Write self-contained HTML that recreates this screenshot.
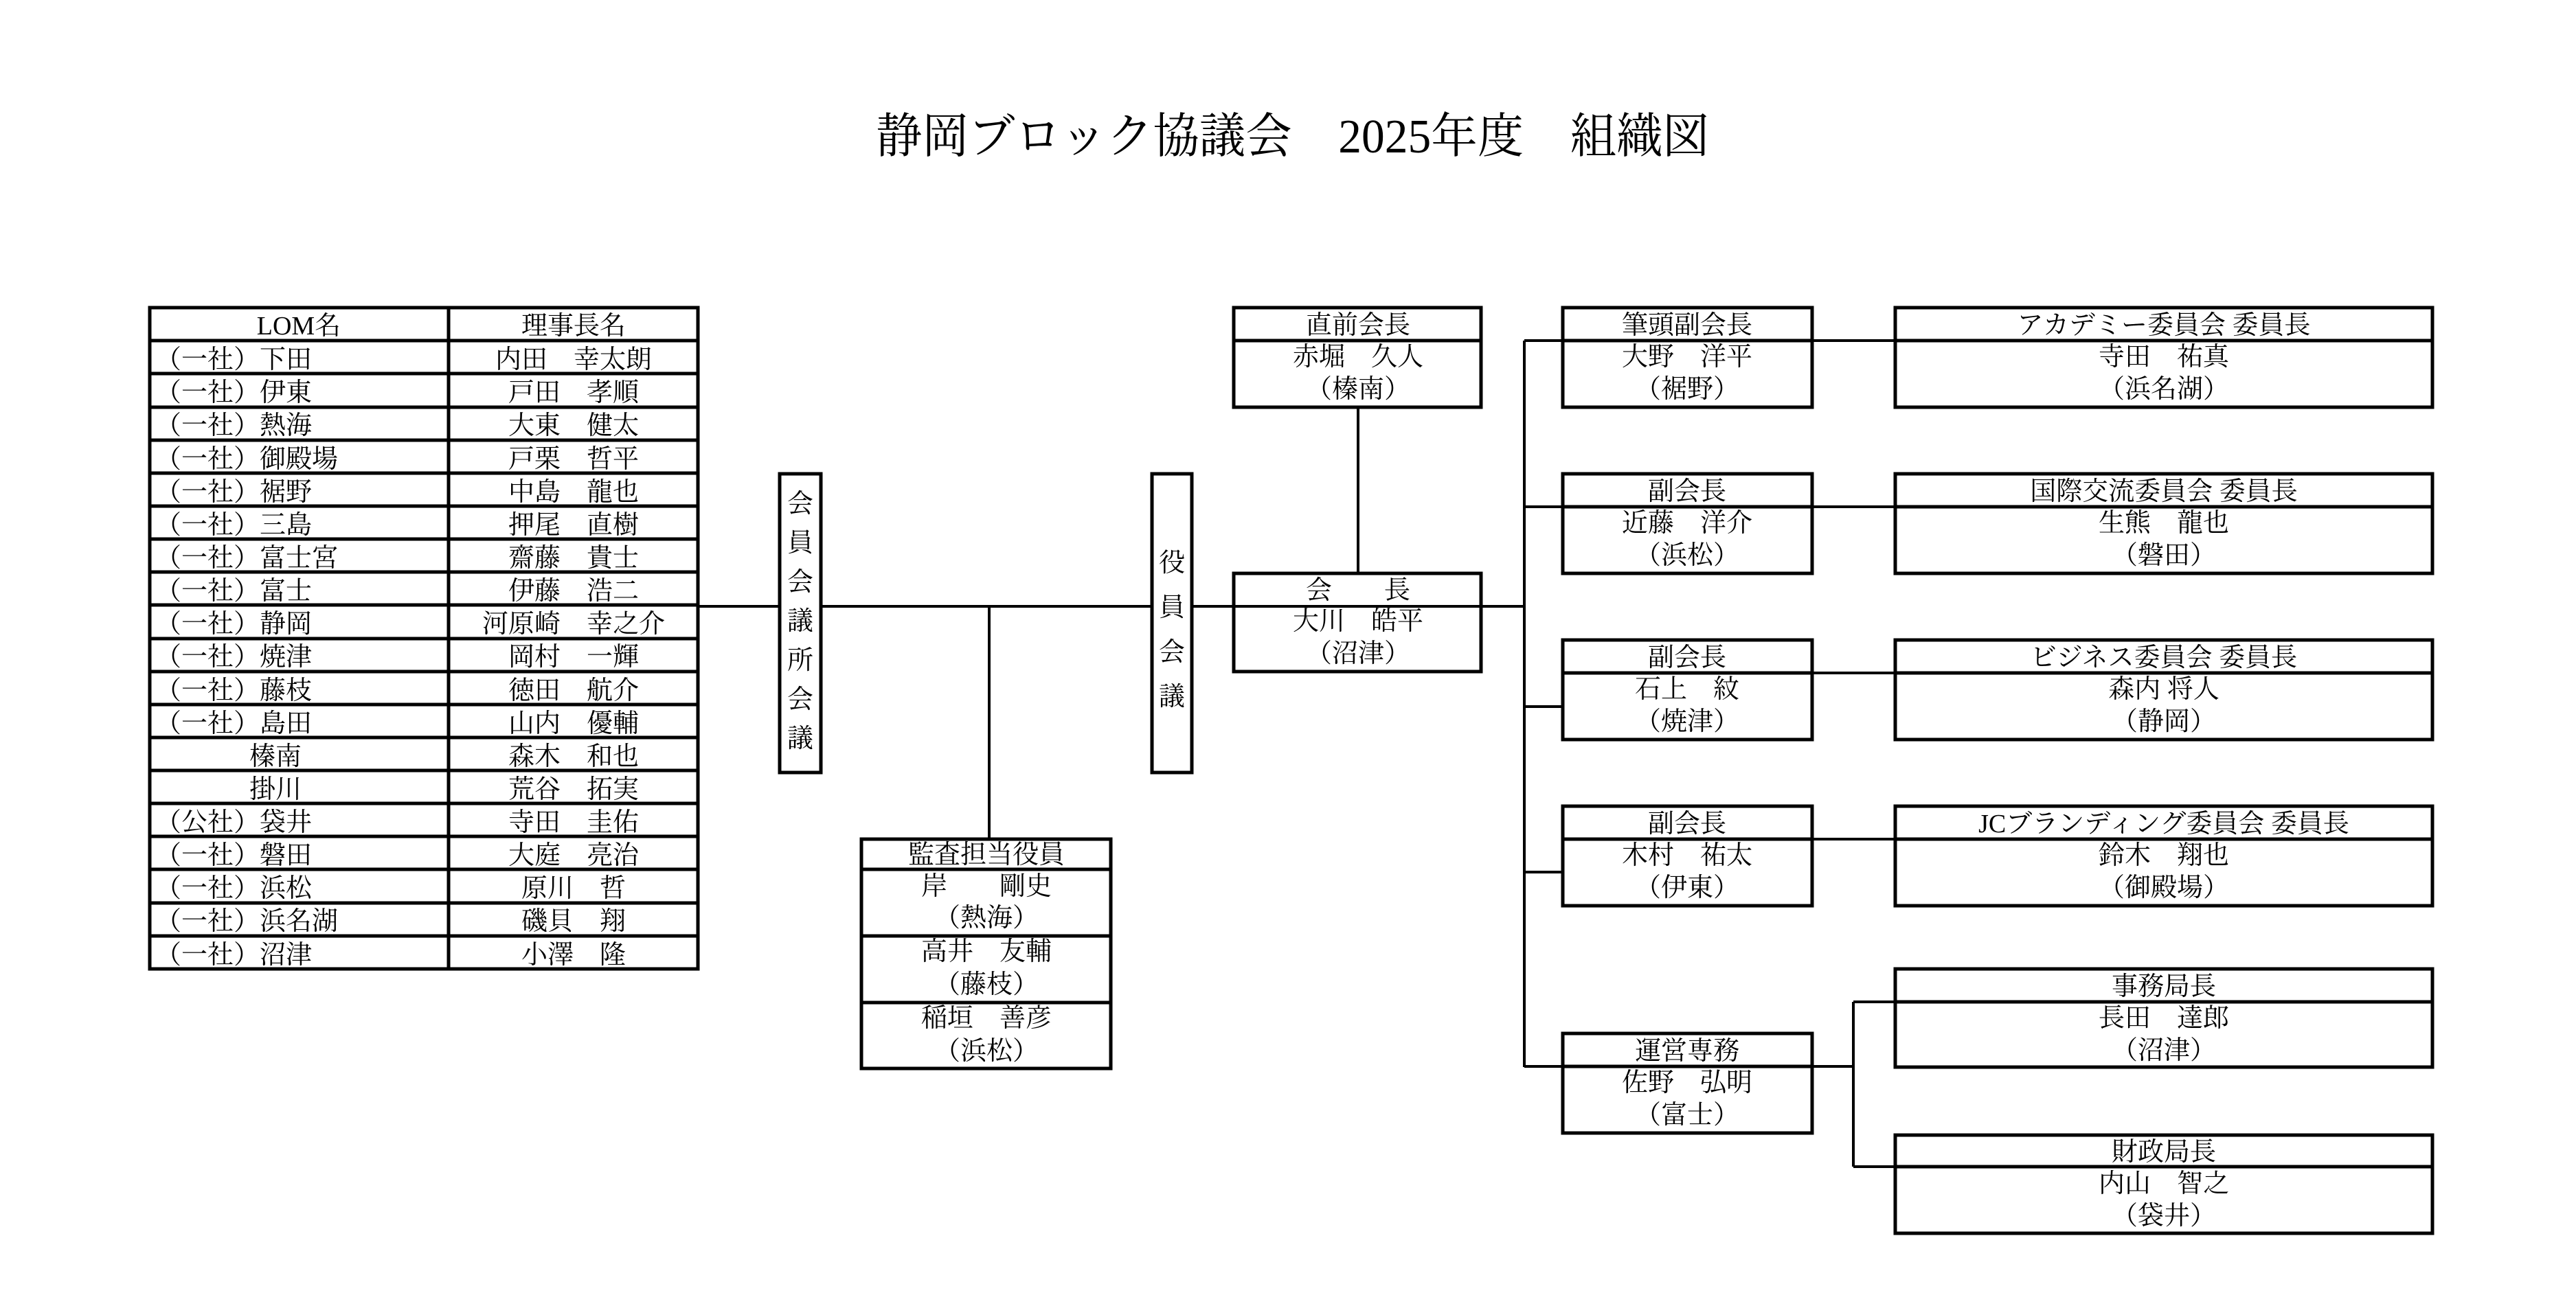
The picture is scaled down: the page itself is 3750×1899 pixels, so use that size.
<!DOCTYPE html>
<html><head><meta charset="utf-8"><style>
html,body{margin:0;padding:0;background:#fff}
svg text{font-family:"Liberation Serif","Noto Serif CJK JP","Noto Serif CJK SC",serif;fill:#000}
</style></head><body>
<svg width="3750" height="1894" viewBox="0 0 3750 1894" xmlns="http://www.w3.org/2000/svg">
<rect width="3750" height="1894" fill="#fff"/>
<text x="1275" y="222" font-size="70" textLength="1213" lengthAdjust="spacingAndGlyphs">静岡ブロック協議会　2025年度　組織図</text>

<g fill="none" stroke="#000" stroke-width="5">
<rect x="218" y="448" width="798" height="963"/>
<line x1="653" y1="448" x2="653" y2="1411"/>
<path d="M218 496H1016M218 544H1016M218 593H1016M218 641H1016M218 689H1016M218 737H1016M218 785H1016M218 833H1016M218 881H1016M218 930H1016M218 978H1016M218 1026H1016M218 1074H1016M218 1122H1016M218 1170H1016M218 1218H1016M218 1266H1016M218 1315H1016M218 1363H1016"/>
<rect x="1135" y="690" width="60" height="435"/>
<rect x="1677" y="690" width="58" height="435"/>
<path d="M1016 883H1135M1195 883H1677M1440 883V1222M1735 883H2219M1977 593V835" stroke-width="4"/>
<path d="M2219 496V1554M2219 496H2759M2219 738H2759M2219 1029H2275M2638 980H2759M2219 1270H2275M2638 1222H2759M2219 1553H2698M2698 1459V1699M2698 1459H2759M2698 1699H2759" stroke-width="4"/>
<rect x="1796" y="448" width="360" height="145"/><line x1="1796" y1="496" x2="2156" y2="496"/>
<rect x="1796" y="835" width="360" height="143"/>
<rect x="1254" y="1222" width="363" height="334"/>
<path d="M1254 1266H1617M1254 1363H1617M1254 1460H1617"/>
<rect x="2275" y="448" width="363" height="145"/><line x1="2275" y1="496" x2="2638" y2="496"/>
<rect x="2275" y="690" width="363" height="145"/><line x1="2275" y1="738" x2="2638" y2="738"/>
<rect x="2275" y="932" width="363" height="145"/><line x1="2275" y1="980" x2="2638" y2="980"/>
<rect x="2275" y="1174" width="363" height="145"/><line x1="2275" y1="1222" x2="2638" y2="1222"/>
<rect x="2275" y="1505" width="363" height="145"/><line x1="2275" y1="1553" x2="2638" y2="1553"/>
<rect x="2759" y="448" width="782" height="145"/><line x1="2759" y1="496" x2="3541" y2="496"/>
<rect x="2759" y="690" width="782" height="145"/><line x1="2759" y1="738" x2="3541" y2="738"/>
<rect x="2759" y="932" width="782" height="145"/><line x1="2759" y1="980" x2="3541" y2="980"/>
<rect x="2759" y="1174" width="782" height="145"/><line x1="2759" y1="1222" x2="3541" y2="1222"/>
<rect x="2759" y="1411" width="782" height="143"/><line x1="2759" y1="1459" x2="3541" y2="1459"/>
<rect x="2759" y="1653" width="782" height="143"/><line x1="2759" y1="1699" x2="3541" y2="1699"/>
</g>

<g font-size="38">
<text x="435" y="487" text-anchor="middle">LOM名</text>
<text x="835" y="487" text-anchor="middle">理事長名</text>
<g text-anchor="start">
<text x="226" y="536">（一社）下田</text>
<text x="226" y="584">（一社）伊東</text>
<text x="226" y="632">（一社）熱海</text>
<text x="226" y="681">（一社）御殿場</text>
<text x="226" y="729">（一社）裾野</text>
<text x="226" y="777">（一社）三島</text>
<text x="226" y="825">（一社）富士宮</text>
<text x="226" y="873">（一社）富士</text>
<text x="226" y="921">（一社）静岡</text>
<text x="226" y="969">（一社）焼津</text>
<text x="226" y="1018">（一社）藤枝</text>
<text x="226" y="1066">（一社）島田</text>
<text x="363" y="1114">榛南</text>
<text x="363" y="1162">掛川</text>
<text x="226" y="1210">（公社）袋井</text>
<text x="226" y="1258">（一社）磐田</text>
<text x="226" y="1306">（一社）浜松</text>
<text x="226" y="1354">（一社）浜名湖</text>
<text x="226" y="1403">（一社）沼津</text>
</g>
<g text-anchor="middle">
<text x="835" y="536">内田　幸太朗</text>
<text x="835" y="584">戸田　孝順</text>
<text x="835" y="632">大東　健太</text>
<text x="835" y="681">戸栗　哲平</text>
<text x="835" y="729">中島　龍也</text>
<text x="835" y="777">押尾　直樹</text>
<text x="835" y="825">齋藤　貴士</text>
<text x="835" y="873">伊藤　浩二</text>
<text x="835" y="921">河原崎　幸之介</text>
<text x="835" y="969">岡村　一輝</text>
<text x="835" y="1018">徳田　航介</text>
<text x="835" y="1066">山内　優輔</text>
<text x="835" y="1114">森木　和也</text>
<text x="835" y="1162">荒谷　拓実</text>
<text x="835" y="1210">寺田　圭佑</text>
<text x="835" y="1258">大庭　亮治</text>
<text x="835" y="1306">原川　哲</text>
<text x="835" y="1354">磯貝　翔</text>
<text x="835" y="1403">小澤　隆</text>

<text x="1165" y="746">会</text><text x="1165" y="803">員</text><text x="1165" y="860">会</text>
<text x="1165" y="917">議</text><text x="1165" y="974">所</text><text x="1165" y="1031">会</text><text x="1165" y="1088">議</text>
<text x="1706" y="832">役</text><text x="1706" y="897">員</text><text x="1706" y="962">会</text><text x="1706" y="1027">議</text>

<text x="1977" y="486">直前会長</text>
<text x="1977" y="532">赤堀　久人</text>
<text x="1977" y="579">（榛南）</text>
<text x="1977" y="872">会　　長</text>
<text x="1977" y="917">大川　皓平</text>
<text x="1977" y="964">（沼津）</text>

<text x="1436" y="1257">監査担当役員</text>
<text x="1436" y="1303">岸　　剛史</text>
<text x="1436" y="1349">（熱海）</text>
<text x="1436" y="1398">高井　友輔</text>
<text x="1436" y="1446">（藤枝）</text>
<text x="1436" y="1495">稲垣　善彦</text>
<text x="1436" y="1543">（浜松）</text>

<text x="2456" y="486">筆頭副会長</text><text x="2456" y="532">大野　洋平</text><text x="2456" y="579">（裾野）</text>
<text x="2456" y="728">副会長</text><text x="2456" y="774">近藤　洋介</text><text x="2456" y="821">（浜松）</text>
<text x="2456" y="970">副会長</text><text x="2456" y="1016">石上　紋</text><text x="2456" y="1063">（焼津）</text>
<text x="2456" y="1212">副会長</text><text x="2456" y="1258">木村　祐太</text><text x="2456" y="1305">（伊東）</text>
<text x="2456" y="1543">運営専務</text><text x="2456" y="1589">佐野　弘明</text><text x="2456" y="1636">（富士）</text>

<text x="3150" y="486">アカデミー委員会 委員長</text><text x="3150" y="532">寺田　祐真</text><text x="3150" y="579">（浜名湖）</text>
<text x="3150" y="728">国際交流委員会 委員長</text><text x="3150" y="774">生熊　龍也</text><text x="3150" y="821">（磐田）</text>
<text x="3150" y="970">ビジネス委員会 委員長</text><text x="3150" y="1016">森内 将人</text><text x="3150" y="1063">（静岡）</text>
<text x="3150" y="1212">JCブランディング委員会 委員長</text><text x="3150" y="1258">鈴木　翔也</text><text x="3150" y="1305">（御殿場）</text>
<text x="3150" y="1449">事務局長</text><text x="3150" y="1495">長田　達郎</text><text x="3150" y="1542">（沼津）</text>
<text x="3150" y="1690">財政局長</text><text x="3150" y="1736">内山　智之</text><text x="3150" y="1783">（袋井）</text>
</g>
</g>
</svg>
</body></html>
